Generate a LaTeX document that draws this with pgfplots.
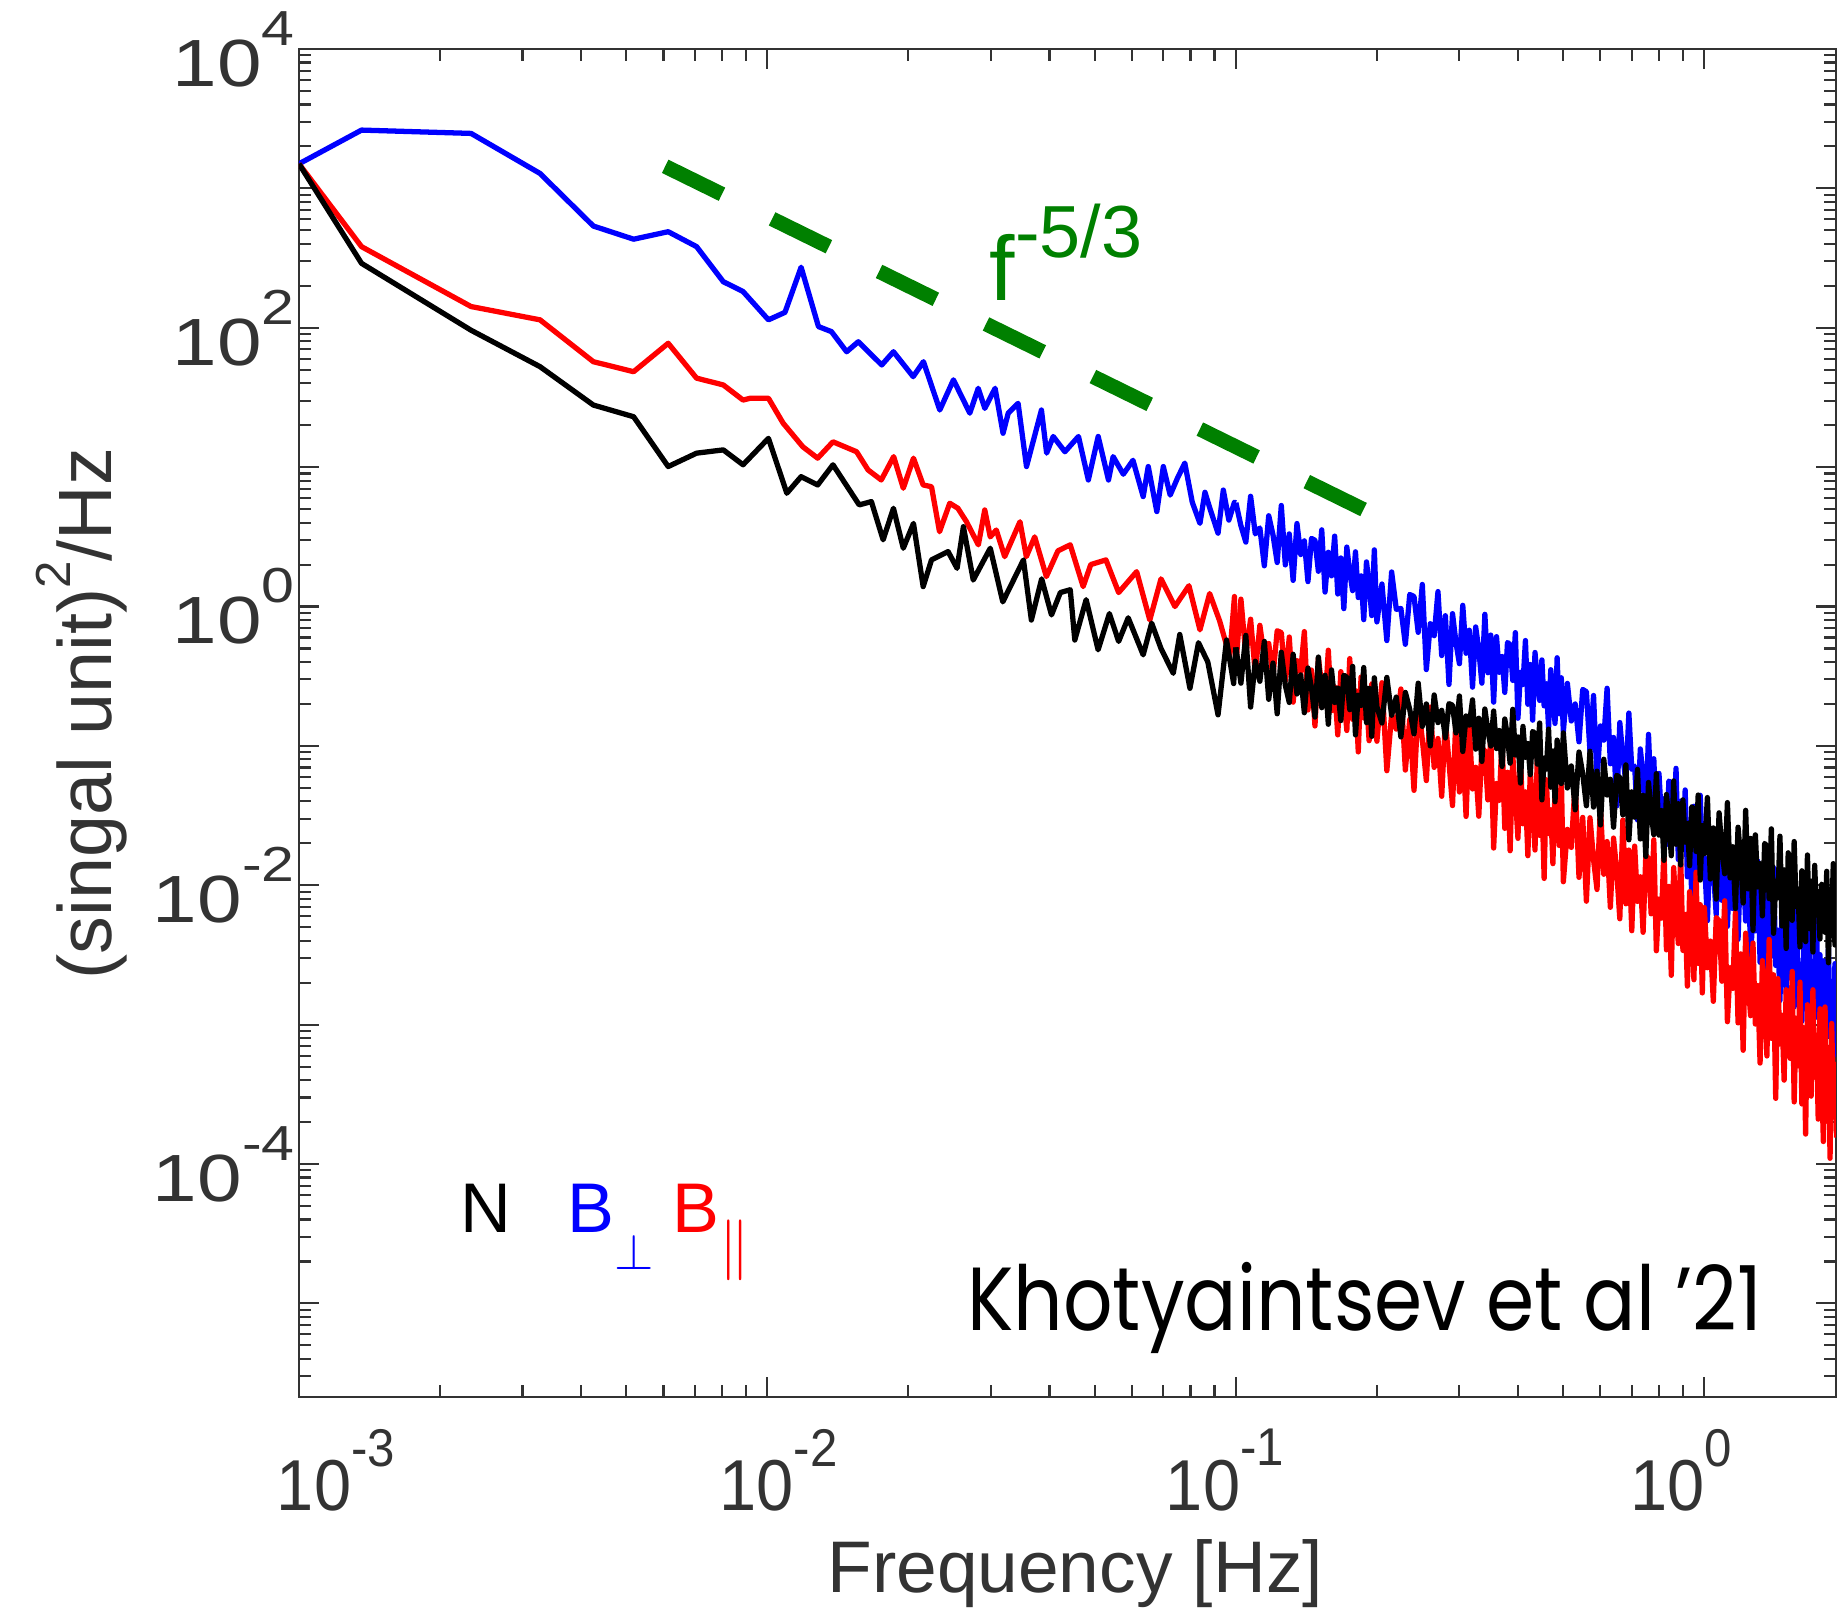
\documentclass[border=0pt]{standalone}
\usepackage{pgfplots}
\pgfplotsset{compat=1.18}
\usepackage{pgfplotstable}
\usepackage{graphicx}
\usepackage{fontspec}
\setmainfont{Liberation Sans}
\newfontfamily\futura{Poppins}
\definecolor{axgray}{gray}{0.2}
\definecolor{mgreen}{rgb}{0,0.5,0}
\newcommand\tsup[1]{\raisebox{11.7pt}{\fontsize{14}{16}\selectfont #1}}
\newcommand\xtl[1]{\scalebox{1}[1.08]{10\tsup{#1}}}
\newcommand\ytl[1]{\scalebox{1.2}[1]{10\tsup{#1}}}

\pgfplotstableread{
f P
1.0e-3 1500
1.36e-3 2620
2.33e-3 2480
3.27e-3 1280
4.25e-3 537
5.18e-3 432
6.14e-3 489
7.06e-3 382
8.05e-3 214
8.87e-3 182
1.005e-2 114
1.09e-2 129
1.18e-2 272
1.285e-2 102
1.37e-2 93.8
1.476e-2 67.3
1.563e-2 79.4
1.754e-2 54.1
1.858e-2 67.3
2.047e-2 44.6
2.153e-2 57.1
2.333e-2 25.7
2.495e-2 42.3
2.704e-2 24.4
2.818e-2 36.8
2.911e-2 26.4
3.062e-2 36.8
3.184e-2 17.5
3.266e-2 24.4
3.428e-2 28.7
3.573e-2 10.1
3.846e-2 25.7
3.945e-2 12.6
4.074e-2 16.6
4.315e-2 12.9
4.613e-2 16.6
4.842e-2 8.09
5.082e-2 16.6
5.346e-2 8.09
5.47e-2 11.9
5.75e-2 8.9
6.03e-2 11.2
6.34e-2 6.15
6.5e-2 10.1
6.78e-2 4.8
7.0e-2 10.1
7.24e-2 6.3
7.5e-2 8.3
7.78e-2 10.7
8.07e-2 5.6
8.38e-2 3.95
8.59e-2 6.6
8.81e-2 5.0
9.16e-2 3.36
9.4e-2 6.85
9.66e-2 4.17
9.93e-2 5.6
0.1 5.55
}\lowB

\pgfplotstableread{
f P
1.0e-3 1500
1.36e-3 382
2.33e-3 142
3.27e-3 114
4.25e-3 57.1
5.18e-3 48.4
6.14e-3 77.4
7.06e-3 43.5
8.05e-3 38.9
8.87e-3 30.3
9.18e-3 31.2
1.005e-2 31.2
1.08e-2 20.7
1.19e-2 14.0
1.28e-2 11.6
1.38e-2 15.2
1.55e-2 12.9
1.64e-2 9.55
1.75e-2 8.09
1.86e-2 11.9
1.95e-2 7.06
2.05e-2 11.6
2.15e-2 7.45
2.24e-2 7.24
2.33e-2 3.44
2.45e-2 5.51
2.55e-2 5.07
2.66e-2 4.06
2.82e-2 2.77
2.91e-2 4.93
2.99e-2 3.16
3.08e-2 3.54
3.21e-2 2.28
3.46e-2 4.06
3.57e-2 2.28
3.72e-2 3.16
3.94e-2 1.64
4.17e-2 2.51
4.43e-2 2.77
4.72e-2 1.39
4.90e-2 2.0
5.28e-2 2.16
5.62e-2 1.26
6.14e-2 1.78
6.55e-2 0.80
6.92e-2 1.58
7.41e-2 1.0
7.94e-2 1.41
8.38e-2 0.68
8.79e-2 1.24
9.23e-2 0.79
9.70e-2 0.44
9.93e-2 1.18
0.1 0.380
}\lowR

\pgfplotstableread{
f P
1.0e-3 1500
1.36e-3 290
2.33e-3 96
3.27e-3 52.6
4.25e-3 27.9
5.18e-3 23.0
6.14e-3 10.1
7.06e-3 12.6
8.05e-3 13.3
8.87e-3 10.4
1.005e-2 16.1
1.10e-2 6.50
1.18e-2 8.55
1.28e-2 7.45
1.38e-2 10.4
1.57e-2 5.36
1.667e-2 5.66
1.766e-2 3.01
1.858e-2 5.07
1.95e-2 2.62
2.05e-2 3.95
2.15e-2 1.39
2.24e-2 2.16
2.43e-2 2.48
2.54e-2 1.88
2.62e-2 3.74
2.75e-2 1.55
2.99e-2 2.62
3.18e-2 1.08
3.52e-2 2.16
3.66e-2 0.80
3.85e-2 1.58
4.04e-2 0.87
4.22e-2 1.26
4.43e-2 1.32
4.53e-2 0.575
4.79e-2 1.12
5.08e-2 0.489
5.37e-2 0.89
5.62e-2 0.562
5.89e-2 0.83
6.34e-2 0.450
6.61e-2 0.76
6.92e-2 0.50
7.35e-2 0.332
7.59e-2 0.63
7.98e-2 0.259
8.32e-2 0.55
8.71e-2 0.40
9.16e-2 0.167
9.55e-2 0.575
9.89e-2 0.28
0.1 0.509
}\lowN

\pgfplotstableread{
f N B R
0.1000 0.509 5.55 0.380
0.1025 0.282 3.80 1.13
0.1050 0.621 2.90 0.448
0.1075 0.190 6.18 0.811
0.1100 0.405 3.32 0.333
0.1125 0.291 3.66 0.733
0.1150 0.562 1.96 0.428
0.1175 0.216 4.48 0.543
0.1200 0.393 3.27 0.317
0.1225 0.170 2.07 0.670
0.1250 0.470 5.31 0.650
0.1275 0.272 1.99 0.294
0.1300 0.205 3.32 0.604
0.1325 0.454 1.54 0.206
0.1350 0.236 3.94 0.409
0.1375 0.323 2.36 0.342
0.1400 0.173 2.96 0.661
0.1425 0.362 1.51 0.181
0.1450 0.261 3.08 0.350
0.1475 0.161 2.99 0.139
0.1500 0.434 1.79 0.427
0.1525 0.188 3.55 0.269
0.1550 0.321 1.27 0.194
0.1575 0.143 2.45 0.486
0.1600 0.351 1.66 0.179
0.1625 0.205 3.20 0.265
0.1650 0.260 1.23 0.120
0.1675 0.152 2.23 0.341
0.1700 0.321 0.966 0.230
0.1725 0.311 2.67 0.129
0.1750 0.182 1.76 0.423
0.1775 0.372 1.30 0.155
0.1800 0.120 2.47 0.249
0.1825 0.231 1.16 0.0906
0.1850 0.195 1.66 0.312
0.1875 0.365 0.805 0.159
0.1900 0.147 2.09 0.214
0.1925 0.259 1.46 0.109
0.1950 0.117 0.861 0.279
0.1975 0.308 2.55 0.269
0.200 0.191 0.776 0.108
0.205 0.146 1.45 0.284
0.210 0.310 0.570 0.0664
0.215 0.166 1.77 0.168
0.220 0.224 0.955 0.132
0.225 0.116 0.968 0.256
0.230 0.242 0.536 0.0671
0.235 0.183 1.22 0.155
0.240 0.122 1.18 0.0480
0.245 0.282 0.653 0.200
0.250 0.138 1.44 0.111
0.255 0.200 0.353 0.0564
0.260 0.100 0.753 0.190
0.265 0.232 0.618 0.0701
0.270 0.147 1.28 0.113
0.275 0.180 0.445 0.0435
0.280 0.114 0.859 0.153
0.285 0.201 0.276 0.0766
0.290 0.196 0.889 0.0373
0.295 0.124 0.550 0.164
0.300 0.228 0.389 0.0467
0.305 0.0912 1.02 0.105
0.310 0.164 0.462 0.0312
0.315 0.141 0.676 0.137
0.320 0.214 0.264 0.0491
0.325 0.0948 0.714 0.0703
0.330 0.158 0.490 0.0313
0.335 0.0774 0.282 0.0964
0.340 0.184 0.879 0.0920
0.345 0.129 0.335 0.0410
0.350 0.0998 0.624 0.120
0.355 0.178 0.206 0.0185
0.360 0.0957 0.608 0.0538
0.365 0.129 0.337 0.0407
0.370 0.0713 0.438 0.113
0.375 0.156 0.242 0.0256
0.380 0.116 0.552 0.0647
0.385 0.0752 0.533 0.0177
0.390 0.183 0.295 0.0855
0.395 0.0861 0.650 0.0447
0.400 0.116 0.158 0.0217
0.405 0.0541 0.337 0.0830
0.410 0.138 0.276 0.0276
0.415 0.0828 0.570 0.0468
0.420 0.104 0.199 0.0163
0.425 0.0622 0.384 0.0653
0.430 0.127 0.153 0.0386
0.435 0.123 0.468 0.0179
0.440 0.0740 0.295 0.0871
0.445 0.146 0.212 0.0228
0.450 0.0410 0.414 0.0425
0.455 0.0817 0.194 0.0112
0.460 0.0682 0.279 0.0571
0.465 0.132 0.135 0.0235
0.470 0.0506 0.352 0.0348
0.475 0.0920 0.245 0.0143
0.480 0.0398 0.145 0.0492
0.485 0.110 0.429 0.0469
0.490 0.0724 0.170 0.0193
0.495 0.0537 0.308 0.0631
0.50 0.124 0.127 0.0106
0.51 0.0499 0.281 0.0252
0.52 0.0718 0.151 0.0187
0.53 0.0348 0.200 0.0555
0.54 0.0904 0.107 0.0114
0.55 0.0630 0.254 0.0307
0.56 0.0372 0.245 0.00769
0.57 0.0916 0.0906 0.0305
0.58 0.0364 0.230 0.0153
0.59 0.0659 0.0568 0.00933
0.60 0.0271 0.139 0.0372
0.61 0.0802 0.110 0.0120
0.62 0.0444 0.259 0.0206
0.63 0.0577 0.0745 0.00695
0.64 0.0261 0.115 0.0218
0.65 0.0615 0.0371 0.0127
0.66 0.0594 0.147 0.00575
0.67 0.0320 0.0832 0.0294
0.68 0.0731 0.0555 0.00736
0.69 0.0212 0.172 0.0179
0.70 0.0468 0.0679 0.00472
0.71 0.0308 0.0716 0.0191
0.72 0.0679 0.0294 0.00766
0.73 0.0215 0.0951 0.0115
0.74 0.0442 0.0610 0.00460
0.75 0.0161 0.0319 0.0164
0.76 0.0547 0.121 0.0156
0.77 0.0331 0.0391 0.00624
0.78 0.0231 0.0809 0.0212
0.79 0.0632 0.0272 0.00339
0.80 0.0229 0.0635 0.00796
0.81 0.0344 0.0299 0.00581
0.82 0.0151 0.0418 0.0184
0.83 0.0448 0.0196 0.00344
0.84 0.0296 0.0560 0.00982
0.85 0.0163 0.0537 0.00226
0.86 0.0561 0.0253 0.0134
0.87 0.0197 0.0690 0.00646
0.88 0.0385 0.0153 0.00382
0.89 0.0140 0.0401 0.0166
0.90 0.0410 0.0180 0.00341
0.91 0.0204 0.0483 0.00617
0.92 0.0278 0.0115 0.00189
0.93 0.0138 0.0282 0.00900
0.94 0.0366 0.00802 0.00498
0.95 0.0352 0.0369 0.00210
0.96 0.0175 0.0197 0.0124
0.97 0.0444 0.0126 0.00275
0.98 0.0109 0.0442 0.00726
0.99 0.0268 0.0158 0.00169
1.000 0.0169 0.0160 0.00693
1.015 0.0426 0.00557 0.00256
1.030 0.0111 0.0223 0.00398
1.045 0.0258 0.0132 0.00147
1.060 0.00796 0.00614 0.00587
1.075 0.0331 0.0298 0.00556
1.090 0.0184 0.00780 0.00205
1.105 0.0121 0.0184 0.00774
1.120 0.0392 0.00507 0.00105
1.135 0.0113 0.0170 0.00256
1.150 0.0189 0.00681 0.00182
1.165 0.00681 0.0102 0.00637
1.180 0.0261 0.00409 0.00103
1.195 0.0157 0.0146 0.00322
1.210 0.00746 0.0139 0.000655
1.225 0.0345 0.00554 0.00453
1.240 0.00942 0.0188 0.00204
1.255 0.0217 0.00301 0.00116
1.270 0.00474 0.00646 0.00385
1.285 0.0230 0.00471 0.00101
1.300 0.00973 0.0149 0.00191
1.315 0.0143 0.00280 0.000530
1.330 0.00603 0.00796 0.00288
1.345 0.0200 0.00183 0.00152
1.360 0.0190 0.0109 0.000596
1.375 0.00802 0.00524 0.00409
1.390 0.0254 0.00310 0.000798
1.405 0.00452 0.0134 0.00228
1.420 0.0107 0.00266 0.000296
1.435 0.00813 0.00475 0.00214
1.450 0.0225 0.00149 0.000728
1.465 0.00510 0.00684 0.00117
1.480 0.0129 0.00383 0.000400
1.495 0.00352 0.00166 0.00179
1.510 0.0171 0.00938 0.00168
1.525 0.00891 0.00216 0.000573
1.540 0.00560 0.00554 0.00241
1.555 0.0206 0.00134 0.000279
1.570 0.00706 0.00759 0.00111
1.585 0.00940 0.00179 0.000507
1.600 0.00361 0.00272 0.00202
1.615 0.0127 0.00106 0.000270
1.630 0.00791 0.00392 0.000951
1.645 0.00394 0.00372 0.000164
1.660 0.0165 0.00145 0.00139
1.675 0.00490 0.00510 0.000575
1.690 0.0107 0.000775 0.000307
1.705 0.00332 0.00258 0.00178
1.720 0.0139 0.00188 0.000420
1.735 0.00635 0.00597 0.000839
1.750 0.00899 0.00112 0.000210
1.765 0.00412 0.00318 0.00130
1.780 0.0102 0.000485 0.000425
1.795 0.00977 0.00287 0.000145
1.810 0.00460 0.00138 0.00134
1.825 0.0126 0.000821 0.000203
1.840 0.00278 0.00356 0.000681
1.855 0.00729 0.00106 0.000110
1.870 0.00568 0.00189 0.00102
1.885 0.0143 0.000598 0.000303
1.900 0.00373 0.00274 0.000520
1.915 0.00863 0.00154 0.000155
}\high

\begin{document}
\begin{tikzpicture}
\begin{axis}[
  scale only axis, width=15.37cm, height=13.48cm,
  xmode=log, ymode=log,
  xmin=1e-3, xmax=1.91, ymin=2.13e-6, ymax=1e4,
  axis line style={axgray, line width=0.7pt},
  tick style={axgray, line width=0.6pt},
  major tick length=0.2cm, minor tick length=0.12cm,
  xtick={1e-3,1e-2,1e-1,1},
  xticklabels={\hspace*{0.74cm}\xtl{-3},\hspace*{0.22cm}\xtl{-2},\xtl{-1}\hspace*{0.22cm},\xtl{0}\hspace*{0.46cm}},
  minor xtick={2e-3,3e-3,4e-3,5e-3,6e-3,7e-3,8e-3,9e-3,2e-2,3e-2,4e-2,5e-2,6e-2,7e-2,8e-2,9e-2,0.2,0.3,0.4,0.5,0.6,0.7,0.8,0.9},
  ytick={1e-5,1e-4,1e-3,1e-2,1e-1,1,10,100,1000,10000},
  yticklabels={{},\ytl{-4},{},\ytl{-2},{},\ytl{0},{},\ytl{2},{},\ytl{4}},
  minor ytick={3e-6,4e-6,5e-6,6e-6,7e-6,8e-6,9e-6,
    2e-5,3e-5,4e-5,5e-5,6e-5,7e-5,8e-5,9e-5,
    2e-4,3e-4,4e-4,5e-4,6e-4,7e-4,8e-4,9e-4,
    2e-3,3e-3,4e-3,5e-3,6e-3,7e-3,8e-3,9e-3,
    0.02,0.03,0.04,0.05,0.06,0.07,0.08,0.09,
    0.2,0.3,0.4,0.5,0.6,0.7,0.8,0.9,
    2,3,4,5,6,7,8,9,20,30,40,50,60,70,80,90,
    200,300,400,500,600,700,800,900,2000,3000,4000,5000,6000,7000,8000,9000},
  tick label style={font=\fontsize{19}{22}\selectfont, text=axgray},
  xticklabel style={yshift=-0.2cm},
  yticklabel style={xshift=0.08cm},
  xlabel={Frequency [Hz]},
  ylabel={(singal unit)\tsup{2}/Hz},
  label style={text=axgray},
  xlabel style={font=\fontsize{20.8}{24}\selectfont, at={(axis description cs:0.505,-0.145)}, anchor=base},
  ylabel style={font=\fontsize{21.5}{24}\selectfont, at={(axis description cs:-0.1414,0.507)}, anchor=center},
]
\addplot[blue, line width=1.5pt, line join=round] table[x=f,y=P] {\lowB};
\addplot[blue, line width=1.5pt, line join=round] table[x=f,y=B] {\high};
\addplot[red, line width=1.5pt, line join=round] table[x=f,y=P] {\lowR};
\addplot[red, line width=1.5pt, line join=round] table[x=f,y=R] {\high};
\addplot[black, line width=1.5pt, line join=round] table[x=f,y=P] {\lowN};
\addplot[black, line width=1.5pt, line join=round] table[x=f,y=N] {\high};
\addplot[mgreen, line width=4.2pt, dash pattern=on 18pt off 15.9pt] coordinates {(6.05e-3,1440) (0.19,4.85)};

\node[anchor=base west, inner sep=0, text=mgreen] at (rel axis cs:0.449,0.8138)
  {\fontsize{26}{30}\selectfont f\raisebox{12.2pt}{\fontsize{21}{25}\selectfont -5/3}};
\node[anchor=base west, inner sep=0, font=\fontsize{20}{24}\selectfont] at (rel axis cs:0.1047,0.1217) {N};
\node[anchor=base west, inner sep=0, font=\fontsize{20}{24}\selectfont, text=blue] at (rel axis cs:0.1744,0.1217)
  {B\raisebox{-10.5pt}{\fontsize{14}{16}\selectfont$\perp$}};
\node[anchor=base west, inner sep=0, font=\fontsize{20}{24}\selectfont, text=red] at (rel axis cs:0.2427,0.1217)
  {B\raisebox{-9.4pt}{\fontsize{16}{18}\selectfont$\|$}};
\node[anchor=base east, inner sep=0] at (rel axis cs:0.9525,0.0497)
  {\resizebox{7.95cm}{\height}{\futura\fontsize{25.5}{30}\selectfont Khotyaintsev et al ’21}};
\end{axis}
\pgfresetboundingbox
\path[use as bounding box] (-2.99cm,-2.21cm) rectangle (15.39cm,13.97cm);
\end{tikzpicture}
\end{document}
